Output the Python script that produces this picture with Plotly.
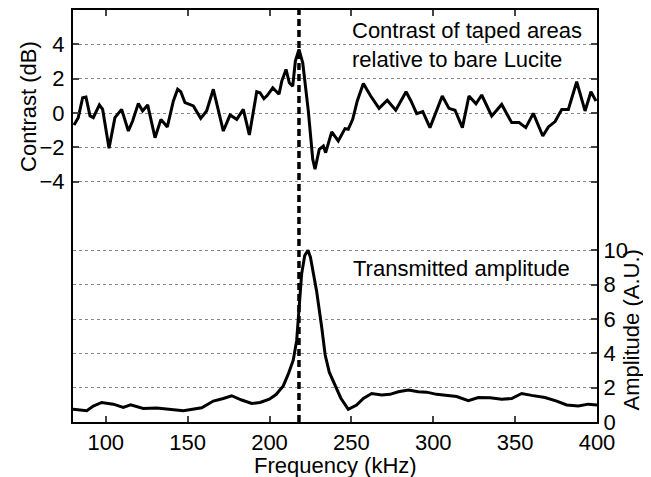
import plotly.graph_objects as go

# Contrast of taped areas relative to bare Lucite (dB)
contrast_khz = [80.6, 83.2, 85.9, 87.9, 90.4, 92.4, 96.1, 98.1, 102.0, 105.6, 109.7, 113.8, 116.4, 119.9,
                122.5, 125.6, 130.1, 133.7, 137.6, 141.3, 143.9, 145.8, 148.4, 153.5, 158.0, 161.6, 165.7,
                171.8, 175.9, 180.0, 184.0, 187.7, 192.2, 194.2, 196.6, 198.7, 202.0, 205.8, 207.5, 210.1,
                212.1, 214.2, 215.8, 218.0, 220.3, 223.7, 226.4, 227.8, 230.4, 232.9, 234.3, 238.0, 242.0,
                246.1, 248.1, 250.8, 253.6, 257.3, 261.8, 266.9, 271.9, 277.1, 283.4, 286.4, 289.9, 293.6,
                298.0, 302.1, 305.5, 309.6, 313.3, 317.8, 321.8, 326.1, 329.6, 335.7, 341.8, 347.9, 352.4,
                356.5, 361.1, 366.9, 370.3, 374.4, 378.5, 382.5, 387.6, 392.7, 396.3, 399.4]
contrast_db = [-0.70, -0.27, 0.89, 0.93, -0.17, -0.27, 0.47, 0.21, -2.05, -0.27, 0.21, -1.05, -0.47, 0.56,
               0.12, 0.47, -1.44, -0.37, -0.81, 0.70, 1.38, 1.24, 0.60, 0.41, -0.31, 0.12, 1.38,
               -1.05, -0.12, -0.37, 0.21, -1.28, 1.24, 1.18, 0.83, 1.03, 1.47, 1.09, 1.86, 2.54,
               1.76, 1.57, 3.02, 3.70, 2.92, 0.12, -2.69, -3.27, -2.11, -1.92, -2.31, -1.10, -1.63,
               -0.91, -0.95, -0.37, 0.70, 1.72, 0.99, 0.27, 0.74, 0.16, 1.24, 0.70, -0.04, 0.08,
               -0.85, 0.12, 0.99, 0.27, 0.16, -0.85, 0.99, 0.54, 1.05, -0.17, 0.50, -0.56, -0.56,
               -0.85, -0.02, -1.34, -0.81, -0.50, 0.21, 0.21, 1.82, 0.12, 1.24, 0.70]

# Transmitted amplitude (A.U.)
amp_khz = [80.0, 84.0, 88.4, 92.4, 97.5, 104.6, 110.7, 115.2, 122.9, 131.1, 140.3, 147.4, 158.6, 165.7,
           171.8, 176.9, 183.0, 189.1, 194.2, 199.9, 204.0, 208.4, 211.5, 214.5, 216.6, 218.0, 219.6,
           221.5, 223.5, 225.0, 227.0, 228.8, 231.9, 234.0, 236.5, 240.0, 243.5, 248.1, 253.2, 257.3,
           262.4, 268.5, 273.6, 278.7, 284.8, 290.9, 296.0, 302.1, 308.2, 314.3, 321.4, 327.5, 334.7,
           341.8, 347.9, 354.0, 360.1, 368.2, 375.4, 381.5, 388.6, 394.7, 400.0]
amp_au = [0.74, 0.72, 0.66, 0.93, 1.14, 1.04, 0.85, 1.00, 0.79, 0.81, 0.75, 0.66, 0.83, 1.22,
          1.37, 1.53, 1.28, 1.08, 1.14, 1.33, 1.60, 2.10, 2.80, 3.60, 4.75, 6.50, 8.60,
          9.70, 10.0, 9.60, 8.60, 7.60, 5.50, 3.90, 2.90, 2.10, 1.40, 0.74, 0.99, 1.37,
          1.66, 1.57, 1.61, 1.76, 1.86, 1.76, 1.74, 1.61, 1.53, 1.48, 1.24, 1.43, 1.41,
          1.32, 1.37, 1.66, 1.55, 1.43, 1.22, 0.99, 0.93, 1.04, 0.99]

resonance_khz = 218
contrast_ticks = [-4, -2, 0, 2, 4]
amp_ticks = [0, 2, 4, 6, 8, 10]
freq_ticks = [100, 150, 200, 250, 300, 350, 400]

FONT = "Liberation Sans, Arial, Helvetica, sans-serif"
FS = 22

fig = go.Figure()
fig.add_trace(go.Scatter(x=contrast_khz, y=contrast_db, mode="lines",
                         line=dict(color="black", width=3), yaxis="y", showlegend=False))
fig.add_trace(go.Scatter(x=amp_khz, y=amp_au, mode="lines",
                         line=dict(color="black", width=3), yaxis="y2", showlegend=False))

fig.add_shape(type="line", xref="x", yref="paper", x0=resonance_khz, x1=resonance_khz, y0=0, y1=1,
              line=dict(color="black", width=3.5, dash="7px,4px"))

grid = dict(showgrid=True, gridcolor="#888888", gridwidth=1, griddash="dot")

fig.update_layout(
    width=643, height=469,
    margin=dict(l=65, r=54, t=0, b=55),
    paper_bgcolor="white", plot_bgcolor="white",
    font=dict(family=FONT, size=FS, color="black"),
    xaxis=dict(range=[80, 400], tickvals=freq_ticks, ticks="inside", ticklen=6, tickwidth=2,
               showline=True, linecolor="black", linewidth=2, mirror="ticks", showgrid=False,
               zeroline=False, tickfont=dict(size=FS), ticklabelstandoff=0),
    yaxis=dict(range=[-18, 6], tickvals=contrast_ticks, ticks="inside", ticklen=6, tickwidth=2,
               showline=True, linecolor="black", linewidth=2, mirror="ticks", zeroline=False,
               tickfont=dict(size=FS), ticklabelstandoff=2, **grid),
    yaxis2=dict(range=[0, 24], tickvals=amp_ticks, overlaying="y", side="right", ticks="inside",
                ticklen=6, tickwidth=2, showline=True, linecolor="black", linewidth=2,
                zeroline=False, tickfont=dict(size=FS), ticklabelstandoff=0, **grid),
)

H = 414  # plot height in px
fig.add_annotation(text="Frequency (kHz)", xref="paper", yref="paper", x=0.5, y=(422 - 466) / H,
                   showarrow=False, xanchor="center", yanchor="middle", font=dict(size=FS))
fig.add_annotation(text="Contrast (dB)", xref="paper", yref="paper", x=-0.085, y=(422 - 105) / H,
                   textangle=-90, showarrow=False, xanchor="center", yanchor="middle", font=dict(size=FS))
fig.add_annotation(text="Amplitude (A.U.)", xref="paper", yref="paper", x=1.065, y=(422 - 330) / H,
                   textangle=-90, showarrow=False, xanchor="center", yanchor="middle", font=dict(size=FS))
fig.add_annotation(text="Contrast of taped areas<br>relative to bare Lucite", xref="paper", yref="paper",
                   x=(350 - 73) / 524, y=(422 - 14) / H, xanchor="left", yanchor="top", align="left",
                   showarrow=False, font=dict(size=FS))
fig.add_annotation(text="Transmitted amplitude", xref="paper", yref="paper",
                   x=(351 - 73) / 524, y=(422 - 268) / H, xanchor="left", yanchor="middle",
                   showarrow=False, font=dict(size=FS), bgcolor="white")

fig.write_html("out.html")
